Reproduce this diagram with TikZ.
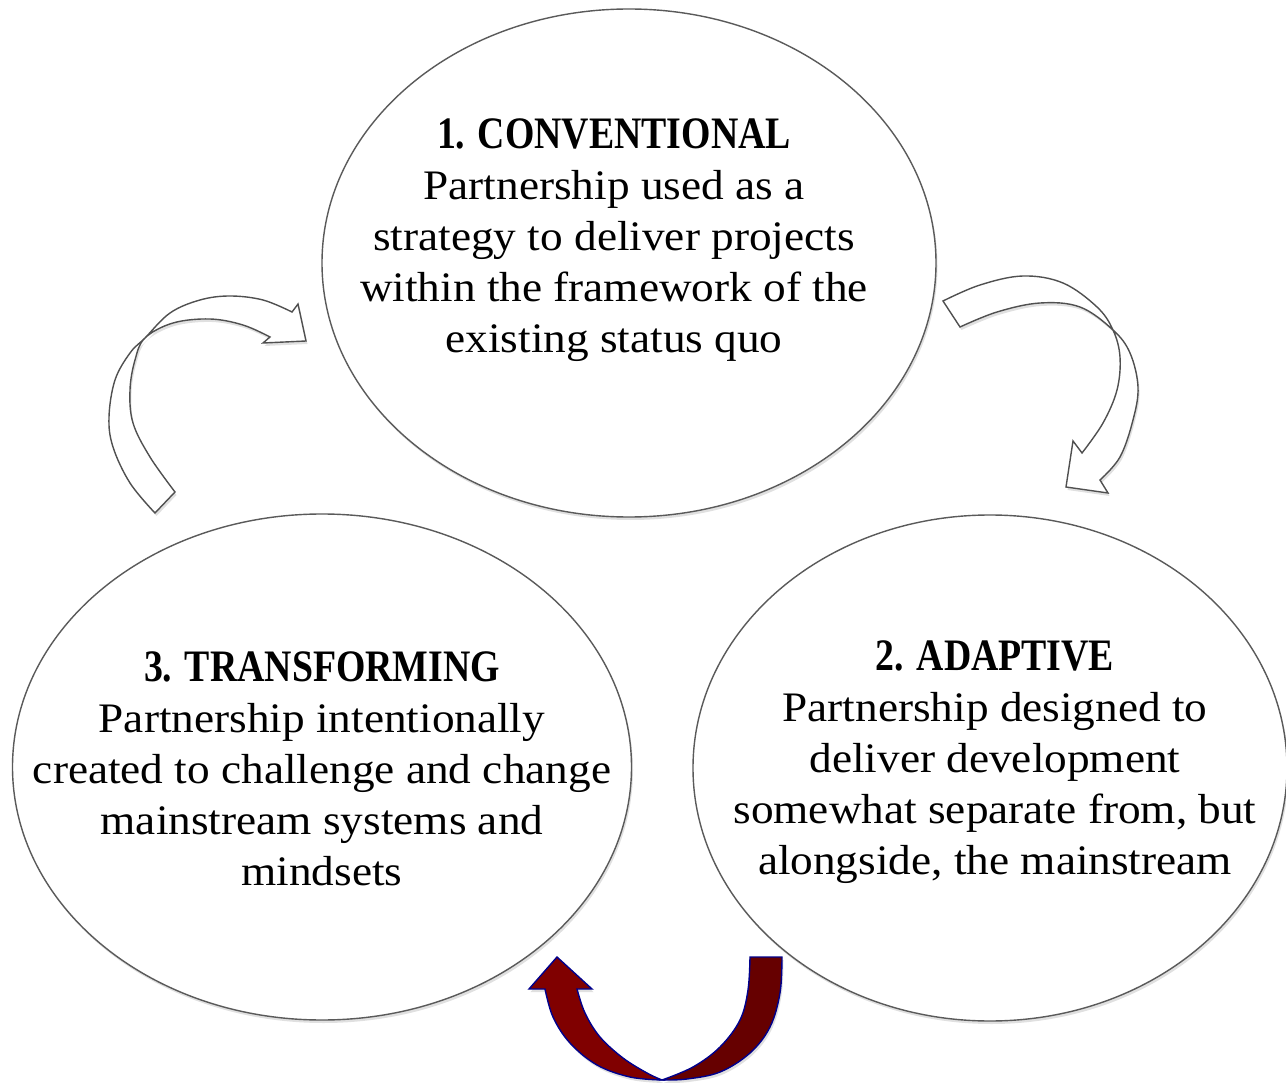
\documentclass[tikz,border=0pt]{standalone}
\usepackage{fontspec}
\setmainfont{Liberation Serif}
\newfontfamily\bodyf{Liberation Serif}[FakeStretch=1.078]
\newfontfamily\headf{Liberation Serif}[FakeStretch=0.84]
\newcommand\hdfont{\headf\bfseries\fontsize{45}{51}\selectfont}
\usetikzlibrary{shapes.geometric,shadows}
\definecolor{ellgray}{RGB}{90,90,90}
\definecolor{arrgray}{RGB}{80,80,80}
\definecolor{outblue}{RGB}{0,0,140}
\definecolor{redA}{RGB}{128,0,0}
\definecolor{redB}{RGB}{102,0,0}
\begin{document}
\begin{tikzpicture}[x=1pt,y=-1pt,
  softshadow/.style={drop shadow={shadow xshift=1.5pt,shadow yshift=-3pt,opacity=0.12,fill=black}},
  ell/.style={ellipse, draw=ellgray, line width=1.4pt, fill=white, inner sep=0pt, softshadow},
  txt/.style={align=center, inner sep=0pt, font=\bodyf\fontsize{42}{51}\selectfont},
  hollow/.style={draw=arrgray, line width=1.4pt, fill=white, line join=miter, softshadow},
  redarm/.style={draw=outblue, line width=1.4pt, line join=miter, softshadow},
  smoothc/.style={smooth, tension=0.6}]
\fill[white] (0,0) rectangle (1286,1083);
\useasboundingbox (0,0) rectangle (1286,1083);

% ellipses
\node[ell, minimum width=614pt, minimum height=508pt] (conv) at (629,263) {};
\node[ell, minimum width=619pt, minimum height=506pt] (trans) at (322,767) {};
\node[ell, minimum width=594pt, minimum height=506pt] (adapt) at (990,768) {};

% texts
\node[txt, anchor=north] (t1) at (614,119) {{\hdfont 1. CONVENTIONAL}\\Partnership used as a\\strategy to deliver projects\\within the framework of the\\existing status quo};
\node[txt, anchor=north] (t3) at (322,652) {{\hdfont 3. TRANSFORMING}\\Partnership intentionally\\created to challenge and change\\mainstream systems and\\mindsets};
\node[txt, anchor=north] (t2) at (995,641) {{\hdfont 2. ADAPTIVE}\\Partnership designed to\\deliver development\\somewhat separate from, but\\alongside, the mainstream};

% left hollow arrow (3 -> 1)
\draw[hollow] plot[smoothc] coordinates {(155,513) (130,483) (113,447) (109,417) (115,380) (130,353) (145,338) (170,313) (200,300) (230,296) (263,300) (292,312)}
  -- (298,304) -- (306,341) -- (263,343) -- (270,337)
  -- plot[smoothc] coordinates {(270,337) (243,325) (210,319) (173,323) (145,338) (135,360) (130,390) (133,423) (150,457) (175,492)}
  -- cycle;

% right hollow arrow (1 -> 2)
\draw[hollow] plot[smoothc] coordinates {(943,301) (980,285) (1023,276) (1063,283) (1097,307) (1113,330) (1120,357) (1117,390) (1103,423) (1082,453)}
  -- (1073,441) -- (1066,487) -- (1108,493) -- (1100,480)
  -- plot[smoothc] coordinates {(1100,480) (1120,457) (1133,420) (1138,387) (1130,353) (1113,330) (1080,307) (1040,303) (997,312) (960,327)}
  -- cycle;

% bottom red arrow (2 -> 3)
\draw[redarm, fill=redB] (750,957) -- (782,957)
  -- plot[smoothc] coordinates {(782,957) (780,993) (770,1027) (750,1053) (720,1072) (687,1079) (662,1080)}
  -- plot[smoothc] coordinates {(662,1080) (693,1067) (720,1047) (740,1020) (748,990) (750,957)}
  -- cycle;
\draw[redarm, fill=redA] plot[smoothc] coordinates {(662,1080) (630,1077) (597,1065) (570,1043) (553,1017) (545,989)}
  -- (529,989) -- (557,957) -- (592,989) -- (577,989)
  -- plot[smoothc] coordinates {(577,989) (585,1013) (600,1037) (623,1058) (647,1073) (662,1080)}
  -- cycle;
\end{tikzpicture}
\end{document}
